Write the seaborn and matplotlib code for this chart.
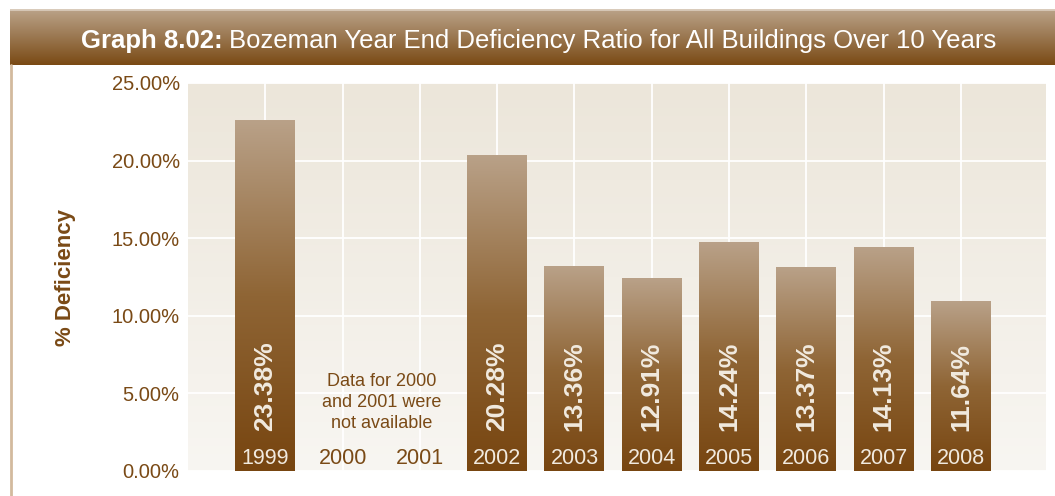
import numpy as np
import matplotlib
matplotlib.use("Agg")
import matplotlib.pyplot as plt
import seaborn as sns
from matplotlib.colors import LinearSegmentedColormap

# chart data
all_years = ["1999", "2000", "2001", "2002", "2003", "2004", "2005", "2006", "2007", "2008"]
bar_years = ["1999", "2002", "2003", "2004", "2005", "2006", "2007", "2008"]
bar_heights = [22.6, 20.3, 13.2, 12.4, 14.7, 13.1, 14.4, 10.9]   # as drawn in the reference
bar_labels = ["23.38%", "20.28%", "13.36%", "12.91%", "14.24%", "13.37%", "14.13%", "11.64%"]
y_ticks = [0, 5, 10, 15, 20, 25]
title_bold = "Graph 8.02:"
title_rest = "Bozeman Year End Deficiency Ratio for All Buildings Over 10 Years"
missing_note = "Data for 2000\nand 2001 were\nnot available"

BROWN = "#7A4A16"
LABEL_WHITE = "#F1EADF"

sns.set_style("white")
plt.rcParams["font.family"] = ["Liberation Sans", "DejaVu Sans"]

W, H = 1055, 496
fig = plt.figure(figsize=(W / 100, H / 100), dpi=100)

# title banner
banner = fig.add_axes([10 / W, 1 - 65 / H, 1 - 10 / W, 56 / H])
banner_cmap = LinearSegmentedColormap.from_list("banner", ["#BBA389", "#9A7750", "#7A4A14"])
banner.imshow(np.linspace(0, 1, 256).reshape(-1, 1), cmap=banner_cmap, aspect="auto",
              extent=(0, 1, 0, 1))
banner.axhline(1, color="#D9CBBB", lw=2)
banner.set_axis_off()

fig.text(223 / W, 1 - 41 / H, title_bold, ha="right", va="center", color="white",
         fontsize=18.5, fontweight="bold")
fig.text(229 / W, 1 - 41 / H, title_rest, ha="left", va="center", color="white",
         fontsize=18.5)

# thin vertical rule on the left
fig.add_artist(plt.Line2D([10.5 / W, 10.5 / W], [0, 1 - 65 / H], color="#D3BA9E", lw=2))

# main axes
ax = fig.add_axes([188 / W, 1 - 471 / H, (1046 - 188) / W, (471 - 83) / H])
bg_cmap = LinearSegmentedColormap.from_list("bg", ["#F8F6F2", "#ECE6DA"])
ax.imshow(np.linspace(0, 1, 256).reshape(-1, 1), cmap=bg_cmap, aspect="auto", origin="lower",
          extent=(0, 1, 0, 1), transform=ax.transAxes, zorder=-2)

sns.barplot(x=bar_years, y=bar_heights, order=all_years, width=0.776, ax=ax,
            color="#9A7750", zorder=2)

bar_cmap = LinearSegmentedColormap.from_list("bar", ["#774510", "#8F6535", "#B9A188"])
grad = np.linspace(0, 1, 256).reshape(-1, 1)
for p in ax.patches:
    x0, w, h = p.get_x(), p.get_width(), p.get_height()
    p.set_facecolor("none")
    p.set_edgecolor("none")
    ax.imshow(grad, cmap=bar_cmap, aspect="auto", origin="lower",
              extent=(x0, x0 + w, 0, h), zorder=2)

ax.set_xlim(-1, 10.1)
ax.set_ylim(0, 25)
ax.set_yticks(y_ticks)
ax.set_yticklabels([f"{v:.2f}%" for v in y_ticks], color=BROWN, fontsize=14.5)
ax.tick_params(axis="y", length=0, pad=6)
ax.set_xticks(range(len(all_years)))
ax.set_xticklabels([])
ax.tick_params(axis="x", length=0)
ax.grid(True, color="white", lw=1.3, zorder=-1)
ax.set_axisbelow(True)
for s in ax.spines.values():
    s.set_visible(False)
ax.set_xlabel("")
ax.set_ylabel("% Deficiency", color=BROWN, fontsize=16, fontweight="bold")
ax.yaxis.set_label_coords(-(188 - 76) / (1046 - 188), 0.5)

# year labels
for i, yr in enumerate(all_years):
    c = LABEL_WHITE if yr in bar_years else BROWN
    ax.text(i, 0.8, yr, ha="center", va="center", color=c, fontsize=15.5, zorder=4)

# value labels inside bars
for yr, lab in zip(bar_years, bar_labels):
    i = all_years.index(yr)
    ax.text(i, 2.6, lab, rotation=90, ha="center", va="bottom", color=LABEL_WHITE,
            fontsize=19, fontweight="bold", zorder=4)

ax.text(1.5, 4.4, missing_note, ha="center", va="center", color=BROWN, fontsize=13,
        linespacing=1.3, zorder=4)

fig.savefig("out.png", dpi=100)
